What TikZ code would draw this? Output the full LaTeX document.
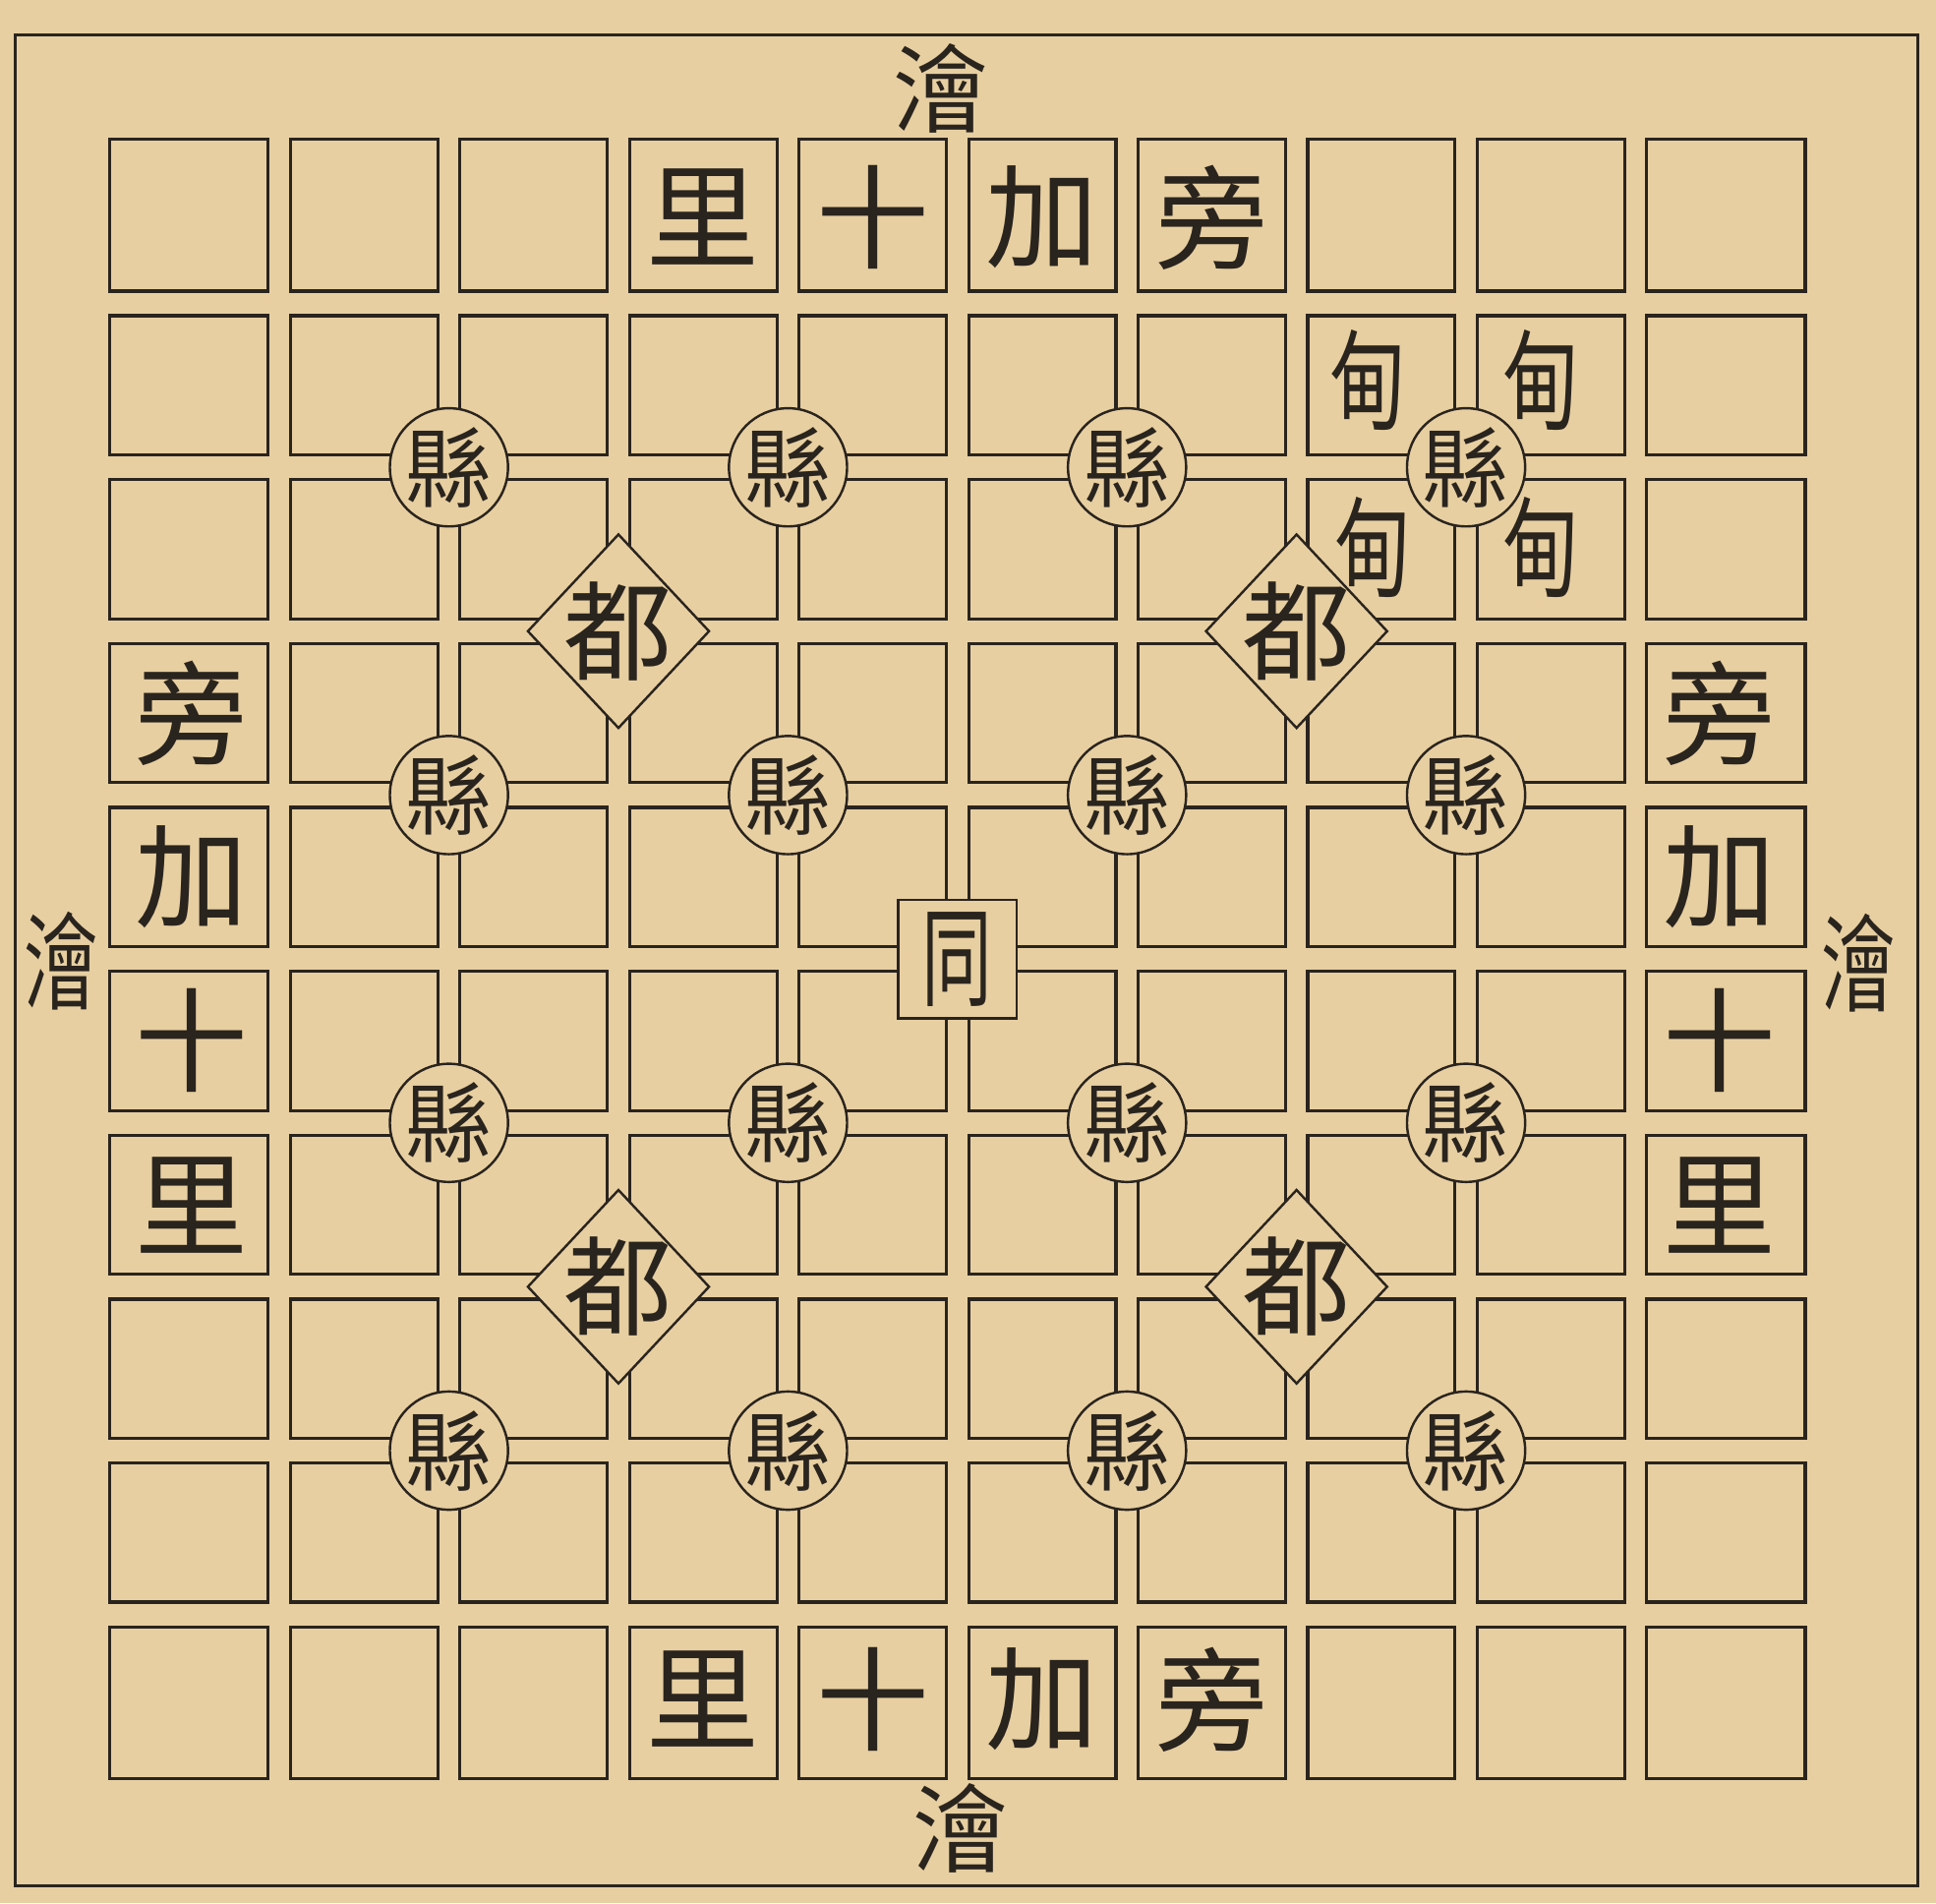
\documentclass[tikz,border=0pt]{standalone}
\usepackage{fontspec}
\newfontfamily\cjk{Noto Sans CJK TC}
\usepackage{xcolor}
\usepackage{graphicx}
\usepackage{tikz}
\usetikzlibrary{shapes.geometric}
\definecolor{paper}{RGB}{231,207,161}
\definecolor{inkc}{RGB}{42,36,30}

\begin{document}
\begin{tikzpicture}[
    x=0.02cm, y=-0.02cm,
    outerframe/.style={draw=inkc, line width=1.4pt},
    block/.style={draw=inkc, line width=1.45pt},
    xian/.style={circle, draw=inkc, line width=1.1pt, fill=paper, text=inkc, minimum size=1.9cm, inner sep=0pt, font=\cjk\fontsize{40}{40}\selectfont},
    du/.style={diamond, draw=inkc, line width=1.1pt, fill=paper, text=inkc, minimum width=2.95cm, minimum height=3.15cm, inner sep=-5pt, font=\cjk\fontsize{50}{50}\selectfont},
    tong/.style={rectangle, draw=inkc, line width=1.1pt, fill=paper, text=inkc, minimum size=1.92cm, inner sep=0pt, font=\cjk\fontsize{50}{50}\selectfont},
    lbl/.style={text=inkc, inner sep=0pt, font=\cjk\fontsize{52}{52}\selectfont},
    dian/.style={text=inkc, inner sep=0pt, font=\cjk\fontsize{50}{50}\selectfont},
    river/.style={text=inkc, inner sep=0pt, font=\cjk\fontsize{44}{44}\selectfont}
]
\fill[paper] (0,0) rectangle (1568,1541);
\useasboundingbox (0,0) rectangle (1568,1541);
\draw[outerframe] (12,28) rectangle (1553,1527);

% blocks of the grid
\foreach \i in {0,...,9}
  \foreach \j in {0,...,9}{
    \pgfmathsetmacro\xa{\i==0 ? 89 : 89+\i*137.3+9}
    \pgfmathsetmacro\xb{\i==9 ? 1462 : 89+(\i+1)*137.3-9}
    \pgfmathsetmacro\ya{\j==0 ? 113 : 113+\j*132.7+10}
    \pgfmathsetmacro\yb{\j==9 ? 1440 : 113+(\j+1)*132.7-10}
    \draw[block] (\xa,\ya) rectangle (\xb,\yb);
  }

% towns on the crossings
\foreach \k in {2,4,6,8}
  \foreach \m in {2,4,6,8}
    \node[xian] (xian-\k-\m) at ({89+\k*137.3},{113+\m*132.7}) {縣};
\foreach \k in {3,7}
  \foreach \m in {3,7}
    \node[du] (du-\k-\m) at ({89+\k*137.3},{113+\m*132.7}) {都};
\node[tong] (tong) at ({89+5*137.3},{113+5*132.7}) {\scalebox{0.65}[1]{同}};

\node[dian] (dian-nw) at (1108,308) {\scalebox{0.7}[1]{甸}};
\node[dian] (dian-ne) at (1248,308) {\scalebox{0.7}[1]{甸}};
\node[dian] (dian-sw) at (1112,443) {\scalebox{0.7}[1]{甸}};
\node[dian] (dian-se) at (1248,443) {\scalebox{0.7}[1]{甸}};

% border labels
\foreach \t [count=\i from 3] in {里,十,加,旁}{
  \node[lbl] (top-\i) at ({89+(\i+0.5)*137.3},176) {\t};
  \node[lbl] (bot-\i) at ({89+(\i+0.5)*137.3},1376) {\t};
}
\foreach \t [count=\j from 3] in {旁,加,十,里}{
  \node[lbl] (left-\j) at (155,{113+(\j+0.5)*132.7}) {\t};
  \node[lbl] (right-\j) at (1393,{113+(\j+0.5)*132.7}) {\t};
}

\node[river] (hui-n) at (762,72) {澮};
\node[river] (hui-s) at (778,1480) {澮};
\node[river] (hui-w) at (50,778) {\scalebox{0.78}[1.1]{澮}};
\node[river] (hui-e) at (1505,780) {\scalebox{0.78}[1.1]{澮}};
\end{tikzpicture}
\end{document}
